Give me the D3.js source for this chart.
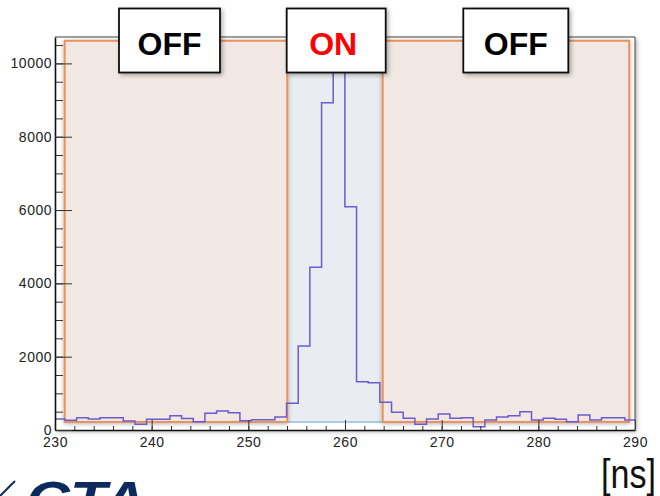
<!DOCTYPE html>
<html>
<head>
<meta charset="utf-8">
<script src="https://cdn.jsdelivr.net/npm/d3@7/dist/d3.min.js"></script>
<style>
body { margin: 0; background: #fff; }
text { font-family: "Liberation Sans", Arial, sans-serif; }
</style>
</head>
<body>
<div id="chart"></div>
<script>
/* histogram: bin layout and counts per bin */
var binStart = 229.82;
var binWidth = 1.2067;
var counts = [300, 265, 336, 300, 336, 336, 245, 160, 295, 295,
              390, 315, 228, 455, 518, 473, 255, 282, 282, 355,
              728, 2291, 4437, 8927, 11500, 6091, 1318, 1291, 755, 482,
              318, 155, 300, 436, 318, 336, 91, 273, 355, 391,
              500, 273, 318, 291, 227, 409, 273, 336, 336, 273];

/* tick labels */
var xMajorTicks = [230, 240, 250, 260, 270, 280, 290];
var yMajorTicks = [0, 2000, 4000, 6000, 8000, 10000];

/* OFF / ON windows */
var regionStart = [231.0, 254.03, 263.9];
var regionEnd = [254.03, 263.9, 289.4];
var regionLabels = ["OFF", "ON", "OFF"];
var regionBottom = 220, regionTop = 10617;

var width = 660, height = 496;
var frame = { left: 55, right: 635, top: 37, bottom: 430 };

var x = d3.scaleLinear().domain([230, 290]).range([frame.left, frame.right]);
var y = d3.scaleLinear().domain([0, 10720]).range([frame.bottom, frame.top]);

var svg = d3.select("#chart").append("svg")
    .attr("width", width)
    .attr("height", height);

var defs = svg.append("defs");
var sh = defs.append("filter").attr("id", "shadow")
    .attr("x", "-10%").attr("y", "-10%").attr("width", "120%").attr("height", "120%");
sh.append("feDropShadow").attr("dx", 2).attr("dy", 2).attr("stdDeviation", 2)
    .attr("flood-color", "#000").attr("flood-opacity", 0.3);
var sh2 = defs.append("filter").attr("id", "soft")
    .attr("x", "-10%").attr("y", "-10%").attr("width", "120%").attr("height", "120%");
sh2.append("feDropShadow").attr("dx", 0).attr("dy", 1).attr("stdDeviation", 2)
    .attr("flood-color", "#000").attr("flood-opacity", 0.3);
defs.append("clipPath").attr("id", "frameclip")
    .append("rect")
    .attr("x", frame.left).attr("y", frame.top)
    .attr("width", frame.right - frame.left).attr("height", frame.bottom - frame.top);

/* frame background */
svg.append("rect")
    .attr("x", frame.left).attr("y", frame.top)
    .attr("width", frame.right - frame.left).attr("height", frame.bottom - frame.top)
    .attr("fill", "#fff")
    .attr("filter", "url(#shadow)");

/* ON window first, OFF windows on top of it */
var regions = regionLabels.map(function(d, i) {
    return { label: d, x0: regionStart[i], x1: regionEnd[i] };
});

var onR = regions.filter(function(d) { return d.label === "ON"; });
svg.selectAll(".onregion").data(onR).enter().append("rect")
    .attr("class", "onregion")
    .attr("x", function(d) { return x(d.x0); })
    .attr("y", y(regionTop))
    .attr("width", function(d) { return x(d.x1) - x(d.x0); })
    .attr("height", y(regionBottom) - y(regionTop))
    .attr("fill", "#e9edf1");
svg.selectAll(".onbase").data(onR).enter().append("line")
    .attr("x1", function(d) { return x(d.x0); })
    .attr("x2", function(d) { return x(d.x1); })
    .attr("y1", y(regionBottom)).attr("y2", y(regionBottom))
    .attr("stroke", "#a9cde6").attr("stroke-width", 2);

var offR = regions.filter(function(d) { return d.label === "OFF"; });
svg.selectAll(".offregion").data(offR).enter().append("rect")
    .attr("class", "offregion")
    .attr("x", function(d) { return x(d.x0); })
    .attr("y", y(regionTop))
    .attr("width", function(d) { return x(d.x1) - x(d.x0); })
    .attr("height", y(regionBottom) - y(regionTop))
    .attr("fill", "#f1e8e3")
    .attr("stroke", "#e8925b")
    .attr("stroke-width", 2)
    .attr("filter", "url(#soft)");

/* histogram outline */
var pts = counts.map(function(c, i) { return [binStart + i * binWidth, c]; });
pts.push([binStart + counts.length * binWidth, counts[counts.length - 1]]);

var line = d3.line()
    .x(function(d) { return x(d[0]); })
    .y(function(d) { return y(d[1]); })
    .curve(d3.curveStepAfter);

svg.append("path")
    .datum(pts)
    .attr("clip-path", "url(#frameclip)")
    .attr("fill", "none")
    .attr("stroke", "#6b5bd3")
    .attr("stroke-width", 1.5)
    .attr("d", line);

/* axes, ticks pointing inwards like ROOT */
var xMinor = d3.range(230, 290.1, 2);
var yMinor = d3.range(0, 10600, 500);

svg.append("g")
    .attr("transform", "translate(0," + frame.bottom + ")")
    .call(d3.axisBottom(x).tickValues(xMinor).tickFormat("").tickSizeInner(-4).tickSizeOuter(0))
    .call(function(g) { g.select(".domain").remove(); });

var xg = svg.append("g")
    .attr("transform", "translate(0," + frame.bottom + ")")
    .call(d3.axisBottom(x).tickValues(xMajorTicks).tickFormat(d3.format("d"))
        .tickSizeInner(-10).tickSizeOuter(0).tickPadding(7));

svg.append("g")
    .attr("transform", "translate(" + frame.left + ",0)")
    .call(d3.axisLeft(y).tickValues(yMinor).tickFormat("").tickSizeInner(-8).tickSizeOuter(0))
    .call(function(g) { g.select(".domain").remove(); });

var yg = svg.append("g")
    .attr("transform", "translate(" + frame.left + ",0)")
    .call(d3.axisLeft(y).tickValues(yMajorTicks).tickFormat(d3.format("d"))
        .tickSizeInner(-17).tickSizeOuter(0).tickPadding(3));

svg.selectAll(".tick line").attr("stroke", "#333");
[xg, yg].forEach(function(g) {
    g.select(".domain").attr("stroke", "#111").attr("stroke-width", 1.6);
    g.selectAll("text").attr("font-size", 14).attr("fill", "#222")
        .attr("font-family", "Liberation Sans, Arial, sans-serif")
        .style("letter-spacing", "0.5px");
});

/* top and right frame edges */
svg.append("path")
    .attr("d", "M" + frame.left + "," + frame.top + "H" + frame.right + "V" + frame.bottom)
    .attr("fill", "none").attr("stroke", "#444").attr("stroke-width", 1);

/* window labels */
var boxes = [
    { x0: 119, x1: 220 },
    { x0: 286.7, x1: 385.7 },
    { x0: 463.3, x1: 568.3 }
];
var lab = svg.selectAll(".lab").data(regionLabels).enter().append("g").attr("class", "lab");
lab.append("rect")
    .attr("x", function(d, i) { return boxes[i].x0; })
    .attr("y", 8.5)
    .attr("width", function(d, i) { return boxes[i].x1 - boxes[i].x0; })
    .attr("height", 64)
    .attr("fill", "#fff")
    .attr("stroke", "#111")
    .attr("stroke-width", 1.8)
    .attr("filter", "url(#shadow)");
lab.append("text")
    .attr("x", function(d, i) { return (boxes[i].x0 + boxes[i].x1) / 2 - (d === "ON" ? 3 : 0); })
    .attr("y", 55)
    .attr("text-anchor", "middle")
    .attr("font-family", "Lato, sans-serif")
    .attr("font-weight", 900)
    .attr("font-size", 32)
    .attr("fill", function(d) { return d === "ON" ? "#ff0000" : "#000"; })
    .text(function(d) { return d; });

/* unit label */
svg.append("text")
    .attr("x", 601).attr("y", 488)
    .attr("font-family", "DejaVu Sans, sans-serif")
    .attr("font-size", 40)
    .attr("textLength", 55)
    .attr("lengthAdjust", "spacingAndGlyphs")
    .attr("fill", "#111")
    .text("[ns]");

/* logo fragment at the bottom edge */
svg.append("line")
    .attr("x1", 0).attr("y1", 496).attr("x2", 15).attr("y2", 481)
    .attr("stroke", "#0d2a5c").attr("stroke-width", 2);
svg.append("text")
    .attr("x", 26).attr("y", 518)
    .attr("font-family", "DejaVu Sans, sans-serif")
    .attr("font-weight", "bold")
    .attr("font-style", "italic")
    .attr("font-size", 52)
    .attr("textLength", 120)
    .attr("lengthAdjust", "spacingAndGlyphs")
    .attr("fill", "#0d2a5c")
    .text("CTA");
</script>
</body>
</html>
